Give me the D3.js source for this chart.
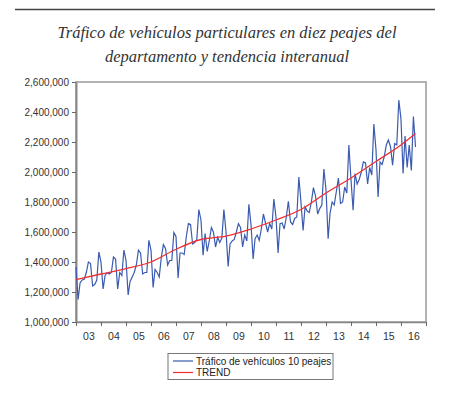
<!DOCTYPE html>
<html>
<head>
<meta charset="utf-8">
<script src="https://cdn.jsdelivr.net/npm/d3@7"></script>
<style>
  body { margin: 0; background: #fff; }
  svg { display: block; }
</style>
</head>
<body>
<div id="chart"></div>
<script>
// monthly traffic, 2003-01 .. 2016-08 (one row per year)
var traffic = [
  1367000, 1150000, 1260000, 1280000, 1285000, 1330000, 1400000, 1390000, 1240000, 1250000, 1280000, 1467000,
  1400000, 1220000, 1310000, 1330000, 1320000, 1330000, 1433000, 1420000, 1220000, 1330000, 1310000, 1480000,
  1410000, 1180000, 1270000, 1300000, 1330000, 1380000, 1478000, 1460000, 1320000, 1330000, 1330000, 1545000,
  1478000, 1230000, 1350000, 1330000, 1300000, 1433000, 1516000, 1490000, 1380000, 1410000, 1410000, 1596000,
  1570000, 1293000, 1460000, 1460000, 1450000, 1570000, 1656000, 1650000, 1520000, 1530000, 1550000, 1750000,
  1680000, 1445000, 1590000, 1470000, 1540000, 1630000, 1600000, 1500000, 1565000, 1530000, 1560000, 1750000,
  1600000, 1370000, 1520000, 1540000, 1550000, 1600000, 1656000, 1630000, 1500000, 1580000, 1540000, 1785000,
  1650000, 1420000, 1556000, 1580000, 1545000, 1620000, 1720000, 1660000, 1600000, 1656000, 1620000, 1820000,
  1700000, 1460000, 1656000, 1660000, 1620000, 1700000, 1805000, 1667000, 1650000, 1690000, 1700000, 1967000,
  1800000, 1610000, 1767000, 1740000, 1730000, 1800000, 1896000, 1840000, 1720000, 1756000, 1780000, 2020000,
  1880000, 1556000, 1725000, 1800000, 1780000, 1870000, 1960000, 1790000, 1800000, 1900000, 1860000, 2180000,
  1950000, 1745000, 1990000, 1920000, 1950000, 2000000, 2067000, 2060000, 1920000, 2030000, 1980000, 2320000,
  2150000, 1833000, 2067000, 2050000, 2100000, 2180000, 2213000, 2170000, 2045000, 2190000, 2180000, 2480000,
  2356000, 1990000, 2240000, 2030000, 2180000, 2010000, 2370000, 2167000
];

// trend read at the start of each year, plus the last month
var trendDates = ["2003-01", "2004-01", "2005-01", "2006-01", "2007-01", "2008-01", "2009-01",
                  "2010-01", "2011-01", "2012-01", "2013-01", "2014-01", "2015-01", "2016-01", "2016-08"];
var trendValues = [1283000, 1320000, 1356000, 1400000, 1485000, 1550000, 1572000,
                   1620000, 1680000, 1750000, 1860000, 1960000, 2070000, 2180000, 2256000];

var yTicks = [1000000, 1200000, 1400000, 1600000, 1800000, 2000000, 2200000, 2400000, 2600000];
var years = d3.range(2003, 2017);
var titleLines = ["Tráfico de vehículos particulares en diez peajes del",
                  "departamento y tendencia interanual"];
var legendLabels = ["Tráfico de vehículos 10 peajes", "TREND"];

var W = 450, H = 394;
var margin = { top: 82, right: 24, bottom: 72, left: 76 },
    width = W - margin.left - margin.right,
    height = H - margin.top - margin.bottom;

var blue = "#3a5bb0", red = "#f03030";
var sans = "'Liberation Sans', Arial, sans-serif";

var svg = d3.select("#chart")
    .append("svg")
    .attr("width", W)
    .attr("height", H);

// top rule
svg.append("line")
    .attr("x1", 15).attr("x2", 435)
    .attr("y1", 9.5).attr("y2", 9.5)
    .attr("stroke", "#444")
    .attr("stroke-width", 1.5);

// title
svg.selectAll(".title")
    .data(titleLines)
    .enter().append("text")
    .attr("class", "title")
    .attr("x", 227)
    .attr("y", function (d, i) { return 38 + i * 23.5; })
    .attr("text-anchor", "middle")
    .style("font-family", "'Liberation Serif', serif")
    .style("font-style", "italic")
    .style("font-size", "16.5px")
    .attr("fill", "#333")
    .text(function (d) { return d; });

var g = svg.append("g")
    .attr("transform", "translate(" + margin.left + "," + margin.top + ")");

var parseMonth = d3.timeParse("%Y-%m");

var x = d3.scaleTime()
    .domain([new Date(2003, 0, 1), new Date(2017, 0, 1)])
    .range([0, width]);

var y = d3.scaleLinear()
    .domain([1000000, 2600000])
    .range([height, 0]);

// frame
g.append("rect")
    .attr("width", width)
    .attr("height", height)
    .attr("fill", "none")
    .attr("stroke", "#9a9a9a")
    .attr("stroke-width", 1.5);

// Y axis
var yAxis = g.append("g")
    .call(d3.axisLeft(y).tickValues(yTicks).tickSize(4).tickSizeOuter(0)
        .tickFormat(d3.format(",")));
yAxis.select(".domain").attr("stroke", "#888").attr("stroke-width", 2);
yAxis.selectAll(".tick line").attr("stroke", "#666");
yAxis.selectAll(".tick text")
    .attr("x", -7)
    .attr("fill", "#333")
    .style("font-family", sans)
    .style("font-size", "10px");

// X axis: year ticks
var xAxis = g.append("g")
    .attr("transform", "translate(0," + height + ")")
    .call(d3.axisBottom(x)
        .tickValues(years.concat([2017]).map(function (d) { return new Date(d, 0, 1); }))
        .tickSize(4).tickSizeOuter(0).tickFormat(""));
xAxis.select(".domain").attr("stroke", "#888").attr("stroke-width", 1.5);
xAxis.selectAll(".tick line").attr("stroke", "#666");

// X axis: year labels in the middle of each year
var xLabels = g.append("g")
    .attr("transform", "translate(0," + height + ")")
    .call(d3.axisBottom(x)
        .tickValues(years.map(function (d) { return new Date(d, 6, 1); }))
        .tickSize(0).tickFormat(d3.timeFormat("%y")));
xLabels.select(".domain").remove();
xLabels.selectAll(".tick text")
    .attr("y", 11)
    .attr("fill", "#333")
    .style("font-family", sans)
    .style("font-size", "10.5px");

// traffic series
g.append("path")
    .datum(traffic)
    .attr("fill", "none")
    .attr("stroke", blue)
    .attr("stroke-width", 1.2)
    .attr("d", d3.line()
        .x(function (d, i) { return x(new Date(2003, i, 1)); })
        .y(function (d) { return y(d); }));

// trend line
g.append("path")
    .datum(trendValues)
    .attr("fill", "none")
    .attr("stroke", red)
    .attr("stroke-width", 1.3)
    .attr("d", d3.line()
        .curve(d3.curveMonotoneX)
        .x(function (d, i) { return x(parseMonth(trendDates[i])); })
        .y(function (d) { return y(d); }));

// legend
var legend = svg.append("g")
    .attr("transform", "translate(168,353.5)");
legend.append("rect")
    .attr("width", 165)
    .attr("height", 26)
    .attr("fill", "#fff")
    .attr("stroke", "#777")
    .attr("stroke-width", 1);
var items = legend.selectAll(".item")
    .data(legendLabels)
    .enter().append("g")
    .attr("transform", function (d, i) { return "translate(5," + (7.5 + i * 11.5) + ")"; });
items.append("line")
    .attr("x1", 0).attr("x2", 20)
    .attr("stroke", function (d, i) { return i === 0 ? blue : red; })
    .attr("stroke-width", 1.2);
items.append("text")
    .attr("x", 23)
    .attr("dy", "0.35em")
    .attr("fill", "#222")
    .style("font-family", sans)
    .style("font-size", "10px")
    .text(function (d) { return d; });
</script>
</body>
</html>
